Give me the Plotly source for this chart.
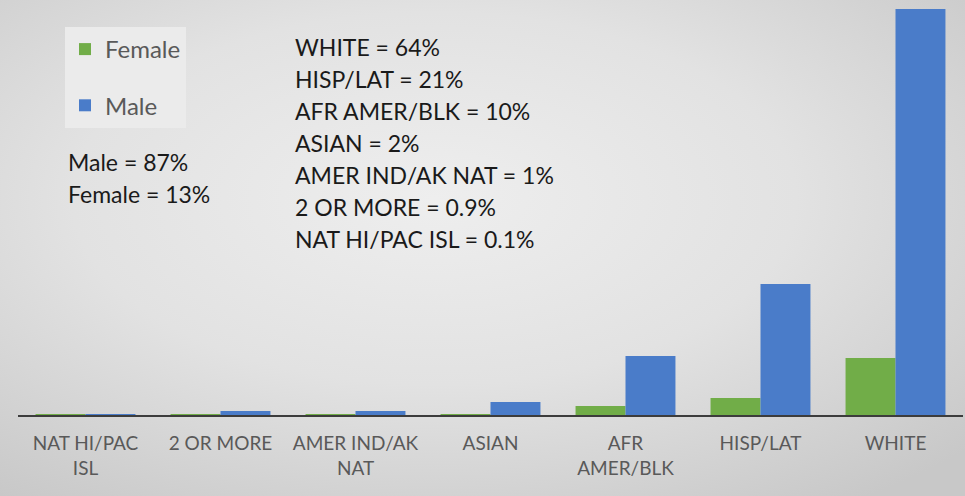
import base64
import plotly.graph_objects as go

# categories left to right, as on the x axis
categories = ["NAT HI/PAC ISL", "2 OR MORE", "AMER IND/AK NAT", "ASIAN",
              "AFR AMER/BLK", "HISP/LAT", "WHITE"]
tick_labels = ["NAT HI/PAC<br>ISL", "2 OR MORE", "AMER IND/AK<br>NAT", "ASIAN",
               "AFR<br>AMER/BLK", "HISP/LAT", "WHITE"]

# bar heights (relative units)
female = [0.05, 0.1, 0.1, 0.5, 9, 17, 57]
male = [0.1, 4, 4, 13, 59, 131, 406]

share_lines = ["WHITE = 64%", "HISP/LAT = 21%", "AFR AMER/BLK = 10%", "ASIAN = 2%",
               "AMER IND/AK NAT = 1%", "2 OR MORE = 0.9%", "NAT HI/PAC ISL = 0.1%"]
sex_lines = ["Male = 87%", "Female = 13%"]

W, H = 965, 496
L, R, T, B = 18, 2, 0, 81
PW, PH = W - L - R, H - T - B


def px(x):
    return (x - L) / PW


def py(y):
    return (H - B - y) / PH


# grey gradient backdrop like the slide
svg = f"""<svg xmlns='http://www.w3.org/2000/svg' width='{W}' height='{H}'>
<defs><radialGradient id='g' cx='0.45' cy='0.4' r='0.75'>
<stop offset='0' stop-color='#eeeeee'/><stop offset='0.5' stop-color='#e2e2e2'/>
<stop offset='1' stop-color='#c8c8c8'/></radialGradient></defs>
<rect width='{W}' height='{H}' fill='url(#g)'/></svg>"""
bg = "data:image/svg+xml;base64," + base64.b64encode(svg.encode()).decode()

fig = go.Figure()
fig.add_trace(go.Bar(x=categories, y=female, name="Female", marker_color="#71ad48",
                     marker_line_width=0, legendgroup="f"))
fig.add_trace(go.Bar(x=categories, y=male, name="Male", marker_color="#4a7cc9",
                     marker_line_width=0, legendgroup="m"))

for i, line in enumerate(share_lines):
    fig.add_annotation(x=px(293), y=py(47 + 32 * i), xref="paper", yref="paper",
                       text=line, showarrow=False, xanchor="left", yanchor="middle",
                       font=dict(family="Lato", size=23, color="#1a1a1a"))
for i, line in enumerate(sex_lines):
    fig.add_annotation(x=px(66), y=py(162 + 32 * i), xref="paper", yref="paper",
                       text=line, showarrow=False, xanchor="left", yanchor="middle",
                       font=dict(family="Lato", size=23, color="#1a1a1a"))

fig.update_layout(
    width=W, height=H,
    margin=dict(l=L, r=R, t=T, b=B),
    paper_bgcolor="#d8d8d8",
    plot_bgcolor="rgba(0,0,0,0)",
    images=[dict(source=bg, xref="paper", yref="paper", x=-L / PW, y=1 + T / PH,
                 sizex=W / PW, sizey=H / PH, xanchor="left", yanchor="top",
                 sizing="stretch", layer="below")],
    barmode="group", bargap=0.26, bargroupgap=0.0,
    showlegend=True,
    legend=dict(x=px(65), y=py(27), xanchor="left", yanchor="top",
                bgcolor="#ebebeb", traceorder="grouped", tracegroupgap=22,
                font=dict(family="Lato", size=24, color="#595959"),
                itemwidth=30),
    xaxis=dict(tickvals=categories, ticktext=tick_labels, showline=True,
               linecolor="#3c3c3c", linewidth=2, ticks="", showgrid=False,
               tickfont=dict(family="Lato", size=19, color="#595959"),
               ticklabelstandoff=10, fixedrange=True),
    yaxis=dict(range=[0, 415], visible=False, showgrid=False, zeroline=False),
)

fig.write_html("out.html", config={"displayModeBar": False},
               post_script="document.body.style.margin='0';")
